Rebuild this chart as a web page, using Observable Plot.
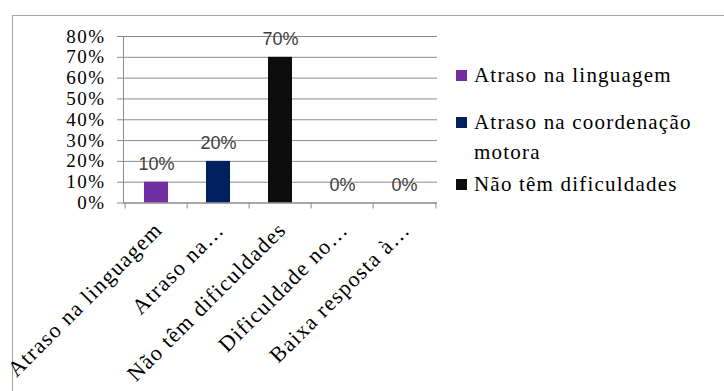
<!DOCTYPE html>
<html>
<head>
<meta charset="utf-8">
<script src="https://cdn.jsdelivr.net/npm/d3@7"></script>
<script src="https://cdn.jsdelivr.net/npm/@observablehq/plot@0.6"></script>
<style>
  html, body { margin: 0; padding: 0; background: #fff; }
  #wrap { position: relative; width: 724px; height: 391px; overflow: hidden; }
  #frame { position: absolute; left: 12px; top: 15px; width: 720px; height: 400px;
           border-left: 1.5px solid #a6a6a6; border-top: 1.5px solid #a6a6a6; }
  #chart { position: absolute; left: 0; top: 0; }
  #legend { position: absolute; left: 456px; top: 60px; width: 264px;
            font-size: 21px; line-height: 30px; color: #000; letter-spacing: 1.2px; }
  .item { display: flex; align-items: flex-start; }
  .sw { width: 11px; height: 11px; flex: none; margin-top: 10px; margin-right: 7px; }
  .lab { width: 240px; font-family: 'Liberation Serif'; }
  g[aria-label="y-axis tick label"] text { letter-spacing: 1.5px; }
  g[aria-label="x-axis tick label"] text { letter-spacing: 1.3px; }
</style>
</head>
<body>
<div id="wrap">
  <div id="frame"></div>
  <div id="chart"></div>
  <div id="legend"></div>
</div>
<script>
const categories = ["Atraso na linguagem", "Atraso na coordenação motora", "Não têm dificuldades", "Dificuldade no…", "Baixa resposta à…"];
const tickLabels = ["Atraso na linguagem", "Atraso na…", "Não têm dificuldades", "Dificuldade no…", "Baixa resposta à…"];
const values = [0.10, 0.20, 0.70, 0.00, 0.00];
const colors = ["#7030A0", "#002060", "#0D0D0D", "#7F7F7F", "#7F7F7F"];
const yTicks = [0, 0.1, 0.2, 0.3, 0.4, 0.5, 0.6, 0.7, 0.8];
const legendItems = ["Atraso na linguagem", "Atraso na coordenação motora", "Não têm dificuldades"];
const legendColors = ["#7030A0", "#002060", "#0D0D0D"];

const data = categories.map((c, i) => ({cat: c, value: values[i], color: colors[i]}));

const W = 724, H = 391, mL = 123, mR = 287, mT = 36, mB = 188.5;
const step = (W - mL - mR) / categories.length;
const pct = d3.format(".0%");
const SERIF = "Liberation Serif";

const chart = Plot.plot({
  width: W, height: H,
  marginLeft: mL, marginRight: mR, marginTop: mT, marginBottom: mB,
  style: {background: "transparent", overflow: "visible"},
  x: {domain: categories, paddingInner: 0.62, paddingOuter: 0.31},
  y: {domain: [0, 0.8]},
  marks: [
    Plot.gridY(yTicks, {stroke: "#8c8c8c", strokeOpacity: 1, strokeWidth: 1}),
    Plot.barY(data, {x: "cat", y: "value", fill: "color"}),
    Plot.ruleY([0], {stroke: "#8c8c8c"}),
    Plot.frame({anchor: "left", stroke: "#8c8c8c"}),
    Plot.axisY({ticks: yTicks, tickFormat: pct, tickSize: 6, tickPadding: 12, stroke: "#8c8c8c",
      fill: "#000", fontSize: 19, fontFamily: SERIF, label: null}),
    Plot.axisX({tickSize: 6, tickFormat: () => "", dx: -step / 2, stroke: "#8c8c8c", label: null}),
    Plot.axisX({ticks: [categories[categories.length - 1]], tickSize: 6, tickFormat: () => "", dx: step / 2, stroke: "#8c8c8c", label: null}),
    Plot.axisX({tickSize: 0, tickRotate: -45, tickPadding: 23, dx: 2, fill: "#000",
      tickFormat: (d) => tickLabels[categories.indexOf(d)],
      fontSize: 22, fontFamily: SERIF, label: null}),
    Plot.text(data, {x: "cat", y: "value", text: d => pct(d.value), lineAnchor: "bottom", dy: -12,
      fill: "#404040", fontSize: 18, fontFamily: "Liberation Sans"})
  ]
});
document.getElementById("chart").appendChild(chart);

const legend = document.getElementById("legend");
const gaps = [0, 17, 2];
legendItems.forEach((name, i) => {
  const it = document.createElement("div");
  it.className = "item";
  it.style.marginTop = gaps[i] + "px";
  const sw = document.createElement("div");
  sw.className = "sw";
  sw.style.background = legendColors[i];
  const lab = document.createElement("div");
  lab.className = "lab";
  lab.textContent = name;
  it.appendChild(sw); it.appendChild(lab);
  legend.appendChild(it);
});
</script>
</body>
</html>
